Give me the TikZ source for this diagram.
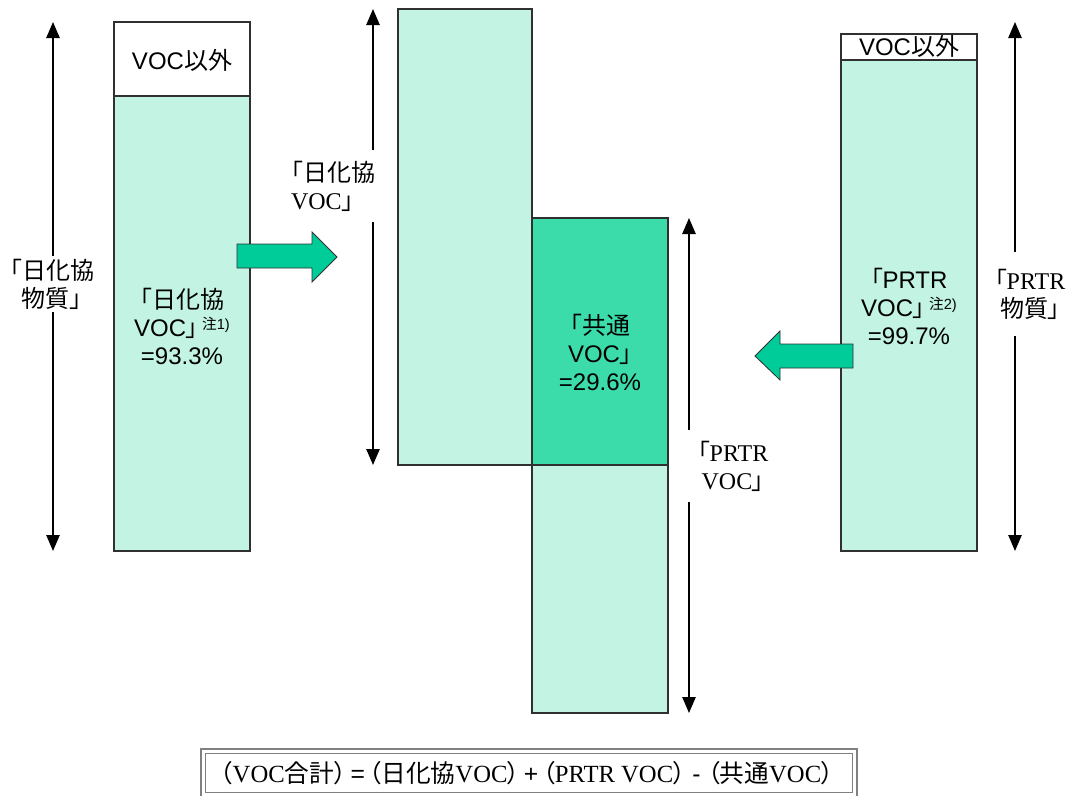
\documentclass[tikz,border=0pt]{standalone}
\usepackage{fontspec}
\setmainfont{Liberation Sans}
\newfontfamily\cjk[RawFeature=+palt]{Noto Sans CJK JP}
\newfontfamily\tms{Liberation Serif}
\usetikzlibrary{arrows.meta}
\definecolor{lightg}{HTML}{C2F3E3}
\definecolor{darkg}{HTML}{3CDCAA}
\definecolor{arrg}{HTML}{00CC99}
\definecolor{edge}{HTML}{303030}
\newcommand\notemark[1]{\,\raisebox{5pt}{\fontsize{11pt}{11pt}\selectfont{\cjk 注}#1)}}
\tikzset{
  bar/.style={draw=edge, line width=1.1pt, fill=lightg, inner sep=0pt},
  wbar/.style={draw=edge, line width=1.1pt, fill=white, inner sep=0pt},
  cbar/.style={draw=edge, line width=1.1pt, fill=darkg, inner sep=0pt},
  txt/.style={align=center, font=\fontsize{18pt}{21pt}\selectfont, inner sep=1pt},
  lbl/.style={align=center, font=\fontsize{18pt}{21pt}\selectfont, fill=white, inner sep=2pt},
  dim/.style={line width=1.1pt, {Triangle[width=10pt,length=12pt]}-{Triangle[width=10pt,length=12pt]}},
  fatarrow/.style={draw=edge, line width=0.6pt, fill=arrg}
}
\begin{document}
\begin{tikzpicture}[x=0.75pt,y=-0.75pt]
\useasboundingbox (0,0) rectangle (1072,796);

% left bar
\node[wbar, minimum width={136*0.75pt}, minimum height={74*0.75pt}] (lw) at (182,59) {};
\node[txt] (lwt) at (182,60) {VOC{\cjk 以外}};
\node[bar, minimum width={136*0.75pt}, minimum height={455*0.75pt}] (lg) at (182,323.5) {};
\node[txt] (lgt) at (182,326) {{\cjk 「日化協}\\VOC{\cjk 」}\notemark{1}\\=93.3\%};

% middle upper bar
\node[bar, minimum width={134*0.75pt}, minimum height={456*0.75pt}] (mg) at (465,237) {};
% lower bar
\node[bar, minimum width={136*0.75pt}, minimum height={248*0.75pt}] (lo) at (600,589) {};
% common bar
\node[cbar, minimum width={136*0.75pt}, minimum height={247*0.75pt}] (cm) at (600,341.5) {};
\node[txt] (cmt) at (600,352) {{\cjk 「共通}\\VOC{\cjk 」}\\=29.6\%};

% right bar
\node[wbar, minimum width={136*0.75pt}, minimum height={26*0.75pt}] (rw) at (909,47) {};
\node[txt] (rwt) at (909,46) {VOC{\cjk 以外}};
\node[bar, minimum width={136*0.75pt}, minimum height={491*0.75pt}] (rg) at (909,305.5) {};
\node[txt] (rgt) at (909,306) {{\cjk 「}PRTR\\VOC{\cjk 」}\notemark{2}\\=99.7\%};

% vertical dimension arrows
\coordinate (a1t) at (53,22);  \coordinate (a1b) at (53,551);
\coordinate (a2t) at (373,9);  \coordinate (a2b) at (373,465);
\coordinate (a3t) at (689,218); \coordinate (a3b) at (689,713);
\coordinate (a4t) at (1015,22); \coordinate (a4b) at (1015,551);
\draw[dim] (a1t) -- (a1b);
\draw[dim] (a2t) -- (a2b);
\draw[dim] (a3t) -- (a3b);
\draw[dim] (a4t) -- (a4b);

\node[lbl, inner xsep=0.5pt] (l1) at (52,284) {{\cjk 「日化協}\\{\cjk 物質」}};
\node[lbl, align=left, minimum height={72*0.75pt}] (l2) at (333,186) {{\cjk 「日化協}\\{\tms VOC}{\cjk 」}};
\node[lbl, minimum width={100*0.75pt}, minimum height={72*0.75pt}] (l3) at (733,466) {{\cjk 「}{\tms PRTR}\\{\tms VOC}{\cjk 」}};
\node[lbl, minimum height={84*0.75pt}] (l4) at (1030,294) {{\cjk 「}{\tms PRTR}\\{\cjk 物質」}};

% thick green arrows
\draw[fatarrow] (237,244) -- (312,244) -- (312,232) -- (337,257) -- (312,282) -- (312,268) -- (237,268) -- cycle;
\draw[fatarrow] (755,356) -- (780,331) -- (780,344) -- (853,344) -- (853,368) -- (780,368) -- (780,380) -- cycle;

% formula box
\draw[draw=gray, line width=1.3pt] (201,749) rectangle (857,797);
\draw[draw=gray, line width=0.8pt] (205.5,753.5) rectangle (852.5,792.5);
\node[font=\fontsize{18.5pt}{20pt}\selectfont, inner sep=0pt] (fm) at (527,773)
 {{\cjk （}{\tms VOC}{\cjk 合計）}\,=\,{\cjk （日化協}{\tms VOC}{\cjk ）}\,+\,{\cjk （}{\tms PRTR VOC}{\cjk ）}\;-\;{\cjk （共通}{\tms VOC}{\cjk ）}};
\end{tikzpicture}
\end{document}
